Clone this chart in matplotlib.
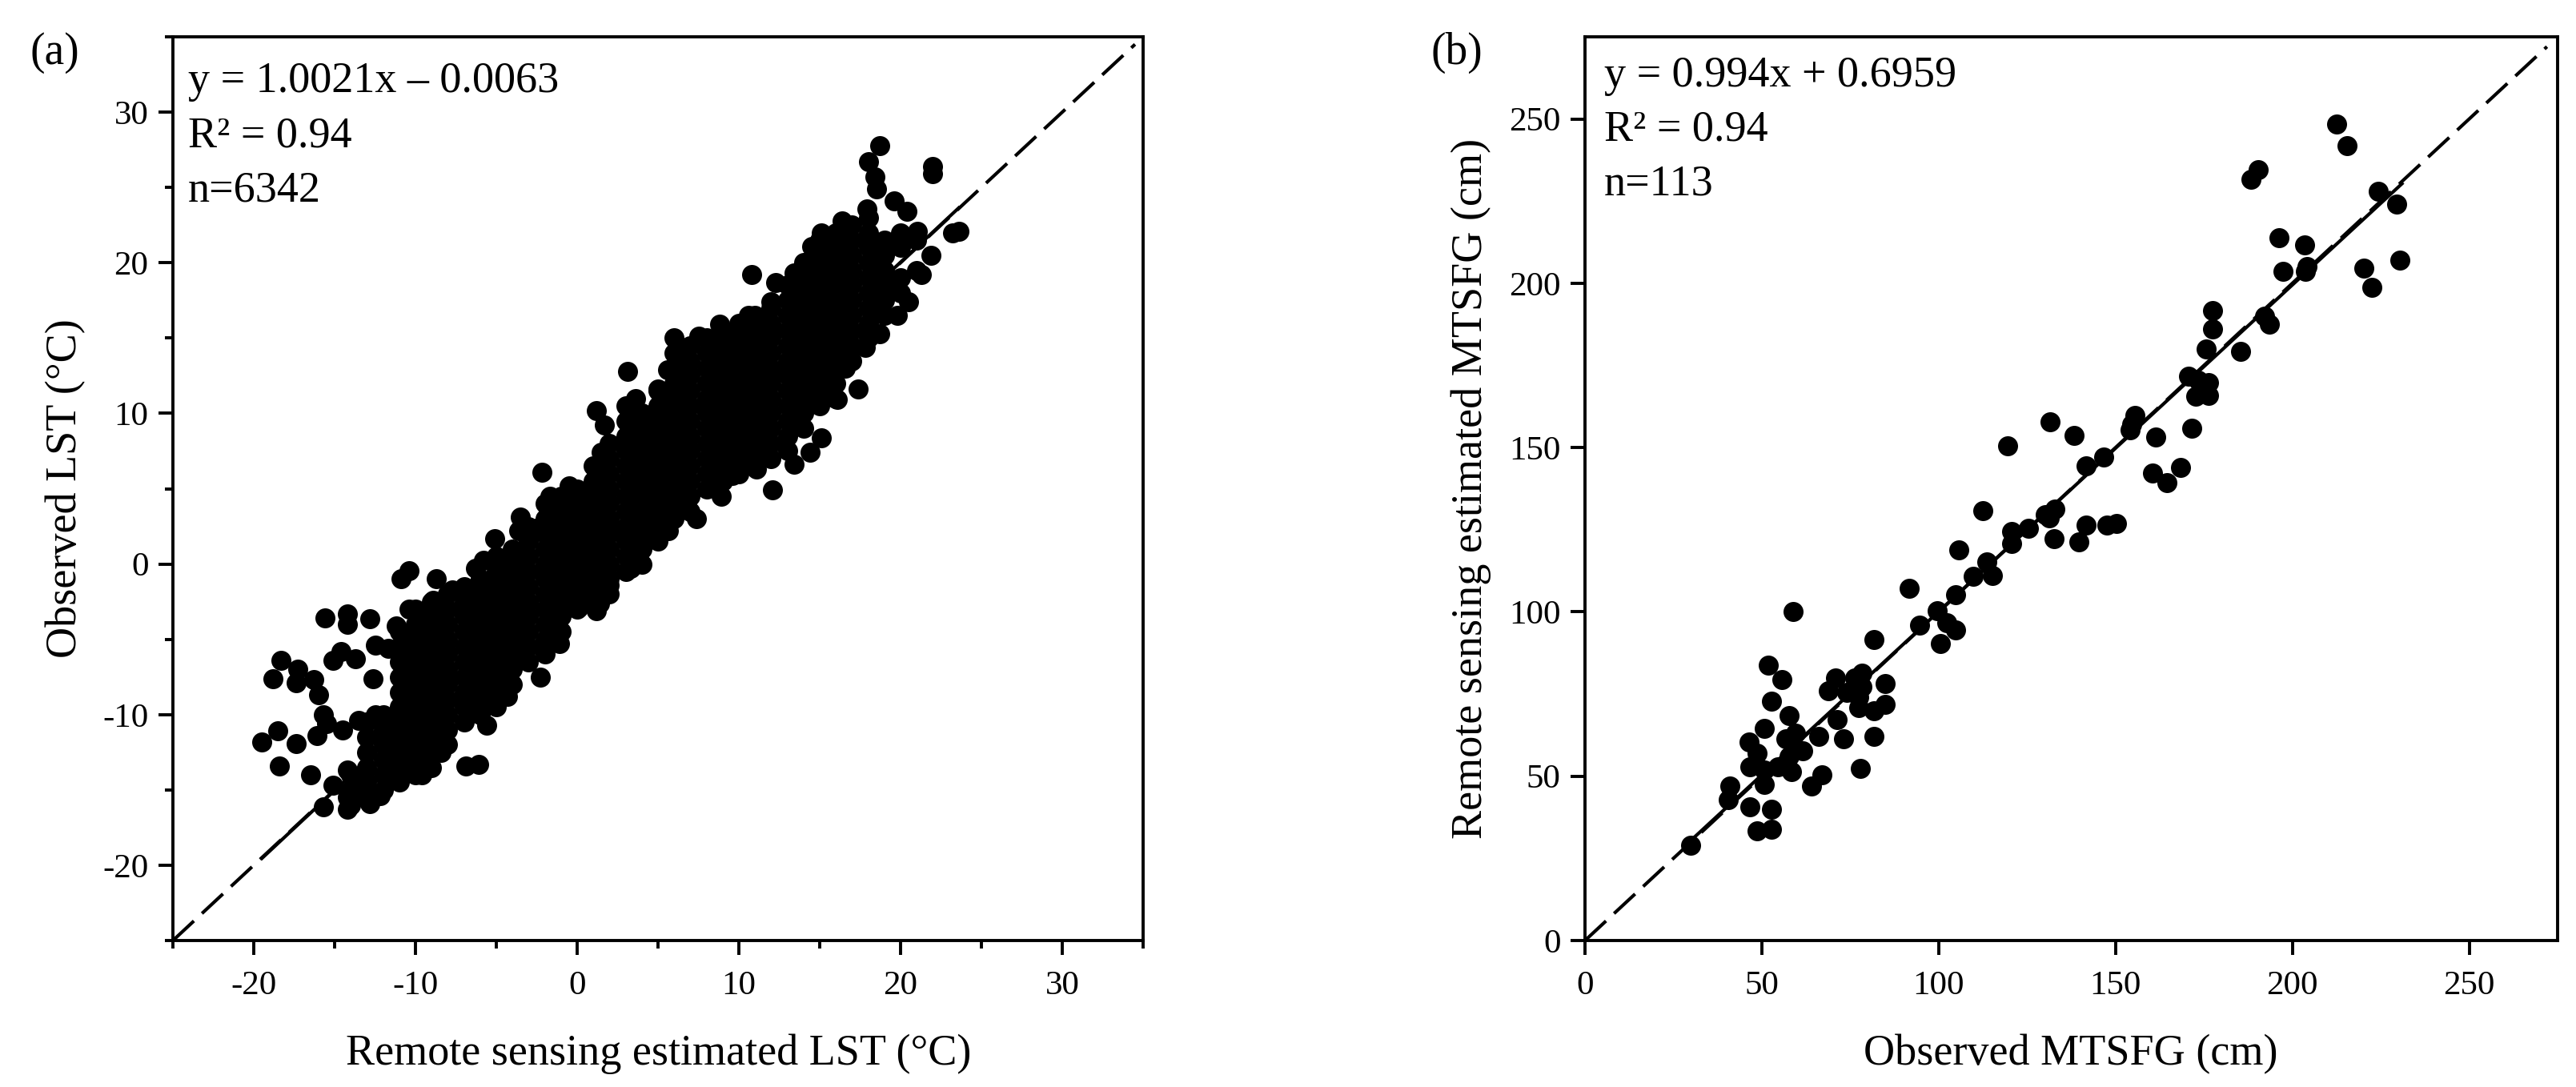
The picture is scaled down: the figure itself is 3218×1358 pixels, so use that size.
import matplotlib
matplotlib.use("Agg")
import matplotlib.pyplot as plt

plt.rcParams["font.family"] = ["Liberation Serif", "DejaVu Serif"]
plt.rcParams["axes.unicode_minus"] = False

# panel (a) - dense part of the cloud, read column by column
band_est = [-14, -13, -12, -11, -10, -9, -8, -7, -6, -5, -4, -3, -2, -1, 0, 1, 2, 3,
            4, 5, 6, 7, 8, 9, 10, 11, 12, 13, 14, 15, 16, 17, 18, 19, 20, 21]
band_obs = [
    [-16, -15, -14],
    [-15.5, -14.5, -13.5, -12.5, -11.5, -10.5],
    [-15, -14, -13, -12, -11, -10],
    [-14.5, -13.5, -12.5, -11.5, -10.5, -9.5, -8.5, -7.5, -6.5, -5.5, -4.5],
    [-14, -13, -12, -11, -10, -9, -8, -7, -6, -5, -4, -3],
    [-13.5, -12.5, -11.5, -10.5, -9.5, -8.5, -7.5, -6.5, -5.5, -4.5, -3.5, -2.5],
    [-12, -11, -10, -9, -8, -7, -6, -5, -4, -3, -2],
    [-10.5, -9.5, -8.5, -7.5, -6.5, -5.5, -4.5, -3.5, -2.5, -1.5],
    [-10, -9, -8, -7, -6, -5, -4, -3, -2, -1],
    [-9.5, -8.5, -7.5, -6.5, -5.5, -4.5, -3.5, -2.5, -1.5, -0.5, 0.5],
    [-8, -7, -6, -5, -4, -3, -2, -1, 0, 1],
    [-6.5, -5.5, -4.5, -3.5, -2.5, -1.5, -0.5, 0.5, 1.5, 2.5],
    [-6, -5, -4, -3, -2, -1, 0, 1, 2, 3, 4],
    [-4.5, -3.5, -2.5, -1.5, -0.5, 0.5, 1.5, 2.5, 3.5, 4.5],
    [-3, -2, -1, 0, 1, 2, 3, 4, 5],
    [-2.5, -1.5, -0.5, 0.5, 1.5, 2.5, 3.5, 4.5, 5.5, 6.5],
    [-2, -1, 0, 1, 2, 3, 4, 5, 6, 7, 8],
    [-0.5, 0.5, 1.5, 2.5, 3.5, 4.5, 5.5, 6.5, 7.5, 8.5, 9.5, 10.5],
    [0, 1, 2, 3, 4, 5, 6, 7, 8, 9, 10],
    [1.5, 2.5, 3.5, 4.5, 5.5, 6.5, 7.5, 8.5, 9.5, 10.5, 11.5],
    [3, 4, 5, 6, 7, 8, 9, 10, 11, 12, 13, 14],
    [3.5, 4.5, 5.5, 6.5, 7.5, 8.5, 9.5, 10.5, 11.5, 12.5, 13.5, 14.5],
    [5, 6, 7, 8, 9, 10, 11, 12, 13, 14, 15],
    [5.5, 6.5, 7.5, 8.5, 9.5, 10.5, 11.5, 12.5, 13.5, 14.5, 15.5],
    [6, 7, 8, 9, 10, 11, 12, 13, 14, 15, 16],
    [6.5, 7.5, 8.5, 9.5, 10.5, 11.5, 12.5, 13.5, 14.5, 15.5, 16.5],
    [7, 8, 9, 10, 11, 12, 13, 14, 15, 16, 17],
    [7.5, 8.5, 9.5, 10.5, 11.5, 12.5, 13.5, 14.5, 15.5, 16.5, 17.5, 18.5],
    [9, 10, 11, 12, 13, 14, 15, 16, 17, 18, 19, 20],
    [10.5, 11.5, 12.5, 13.5, 14.5, 15.5, 16.5, 17.5, 18.5, 19.5, 20.5, 21.5],
    [11, 12, 13, 14, 15, 16, 17, 18, 19, 20, 21, 22],
    [13.5, 14.5, 15.5, 16.5, 17.5, 18.5, 19.5, 20.5, 21.5, 22.5],
    [15, 16, 17, 18, 19, 20, 21, 22, 23],
    [16.5, 17.5, 18.5, 19.5, 20.5, 21.5],
    [18, 19, 21, 22],
    [19.5, 21.5],
]

# panel (a) - points on the edge of the cloud and the stray ones
edge_est = [18.7, 18.0, 22.0, 22.0, 18.4, 18.5, 19.6, 20.4, 21.05, 23.2, 23.6, 21.9, 21.3,
            10.8, 12.3, 15.1, 16.4, 17.9, 14.5, 13.4, 12.0, 10.6, 8.8, 7.5, 6.0, 5.6, 5.0,
            3.1, 3.6, 1.2, 1.7, 1.5, -0.5, -2.2, -1.7, -3.5, -5.1, -2.4, -3.6,
            20.5, 19.8, 18.7, 17.8, 16.6, 17.4, 16.1, 15.1, 14.4, 13.4, 12.1, 11.1, 9.6,
            8.9, 7.4, 5.65, 3.9, 3.3, 2.0, 1.4, 0.1, -1.4,
            -10.4, -10.9, -8.7, -6.3, -5.8, -15.6, -14.2, -14.2, -12.8, -11.2, -10.4, -7.7,
            -8.9, -12.5, -11.7, -14.6, -15.1, -13.7, -12.6, -18.3, -18.8, -17.3, -17.4,
            -16.3, -16.0, -15.7, -15.5, -16.1, -18.5, -19.5, -17.4, -18.4, -16.5, -14.5,
            -13.5, -12.5, -15.7, -14.2, -14.2, -15.1, -14.2, -12.8, -12.2, -9.6, -6.9,
            -6.1, -8.4, -5.6, -4.3, -2.3, -1.1, 1.2]
edge_obs = [27.75, 26.7, 26.4, 25.9, 25.7, 24.9, 24.1, 23.4, 22.1, 22.0, 22.1, 20.5, 19.2,
            19.2, 18.7, 22.0, 22.8, 23.6, 21.1, 19.3, 17.4, 16.5, 15.9, 15.1, 15.0, 12.9, 11.6,
            12.8, 11.0, 10.2, 9.2, 7.4, 5.2, 6.1, 4.5, 3.1, 1.7, 2.4, 2.2,
            17.4, 16.5, 15.3, 14.4, 13.0, 11.6, 10.9, 8.4, 7.4, 6.6, 4.9, 6.3, 5.9,
            4.5, 3.0, 2.2, 0.9, -0.3, -1.4, -2.6, -2.9, -4.7,
            -0.43, -1.0, -1.0, -0.3, 0.26, -3.6, -3.3, -4.0, -3.65, -4.1, -3.0, -1.7,
            -2.4, -5.4, -5.6, -5.8, -6.4, -6.3, -7.6, -6.4, -7.6, -7.0, -7.9,
            -7.7, -8.7, -10.0, -10.6, -11.4, -11.1, -11.8, -11.9, -13.4, -14.0, -11.0,
            -10.4, -10.0, -16.1, -16.3, -15.5, -14.7, -13.7, -15.9, -15.4, -14.0, -13.4,
            -13.3, -12.5, -10.7, -8.8, -7.5, -5.3, -3.1]

# panel (b)
mtsfg_obs = [212.5, 215.5, 190.3, 188.3, 224.4, 229.4, 196.3, 203.4, 203.6, 204.1, 197.4,
             220.3, 230.5, 222.4, 192.2, 193.6, 177.5, 177.5, 175.6, 185.3, 170.6, 173.4,
             176.4, 172.6, 176.4, 174.5, 171.5, 155.6, 154.7, 154.2, 131.6, 138.4, 119.6,
             161.4, 146.7, 141.6, 160.4, 164.5, 168.4, 112.6, 132.9, 131.2, 130.1, 125.4,
             120.7, 141.6, 147.5, 150.4, 132.6, 139.6, 120.7, 105.8, 113.6, 115.2, 109.8,
             104.7, 91.7, 99.5, 94.6, 102.2, 104.9, 100.6, 58.9, 81.7, 51.9, 55.7, 52.8,
             70.8, 68.7, 78.4, 76.2, 78.4, 74.1, 77.3, 84.9, 84.9, 81.7, 77.3, 71.4, 73.0,
             81.7, 66.0, 57.8, 50.8, 46.5, 48.6, 46.7, 56.8, 59.5, 61.6, 58.9, 57.8, 58.4,
             54.6, 50.8, 50.8, 77.9, 67.0, 64.0, 40.9, 40.5, 46.7, 52.8, 48.6, 52.8, 29.9]
mtsfg_est = [248.5, 241.9, 234.6, 231.6, 228.1, 224.0, 213.9, 211.6, 203.6, 205.2, 203.6,
             204.5, 207.1, 198.8, 190.1, 187.6, 191.7, 186.2, 179.9, 179.3, 171.7, 170.4,
             169.8, 165.6, 165.8, 167.7, 155.9, 159.8, 157.2, 155.3, 157.9, 153.7, 150.5,
             153.2, 147.0, 144.5, 142.2, 139.4, 144.0, 130.8, 131.3, 128.7, 129.7, 125.5,
             124.4, 126.5, 126.3, 126.8, 122.3, 121.3, 120.7, 118.9, 115.2, 111.0, 110.8,
             105.2, 107.1, 100.4, 96.0, 96.7, 94.6, 90.4, 100.2, 91.5, 83.8, 79.3, 72.8,
             79.8, 76.1, 81.4, 79.8, 77.2, 75.6, 74.0, 78.3, 71.9, 69.8, 70.9, 67.2, 61.4,
             62.2, 62.1, 68.5, 64.5, 60.5, 57.1, 52.9, 61.4, 63.0, 57.7, 59.3, 56.1, 51.3,
             52.9, 51.9, 47.6, 52.4, 50.3, 46.9, 46.9, 42.9, 40.6, 40.0, 33.4, 33.9, 29.0]

a_ticks = [-20, -10, 0, 10, 20, 30]
a_minor = [-25, -15, -5, 5, 15, 25, 35]
b_ticks = [0, 50, 100, 150, 200, 250]

W, H = 3218, 1358
fig = plt.figure(figsize=(W / 100, H / 100), dpi=100, facecolor="white")


def px_axes(x0, x1, y0, y1):
    return fig.add_axes([x0 / W, 1 - y1 / H, (x1 - x0) / W, (y1 - y0) / H])


def put(x, y, s, **kw):
    fig.text(x / W, 1 - y / H, s, **kw)


def style(ax):
    for sp in ax.spines.values():
        sp.set_linewidth(2.8)
    ax.tick_params(which="major", length=13, width=2.8, labelsize=31)
    ax.tick_params(which="minor", length=7, width=2.8)
    ax.tick_params(axis="x", which="major", pad=14)
    ax.tick_params(axis="y", which="major", pad=9)


# (a)
ax1 = px_axes(216, 1428, 46, 1175)
ax1.plot([-25, 34.5], [-25, 34.5], color="black", lw=3, linestyle=(0, (8.6, 3.3)), zorder=1)
ax1.plot([-19.5, 23.6], [1.0021 * -19.5 - 0.0063, 1.0021 * 23.6 - 0.0063], color="black", lw=3, zorder=1)
for x, ys in zip(band_est, band_obs):
    ax1.plot([x] * len(ys), ys, "o", color="black", ms=18, mew=0, zorder=2)
ax1.plot(edge_est, edge_obs, "o", color="black", ms=18, mew=0, zorder=2)
ax1.set_xlim(-25, 35)
ax1.set_ylim(-25, 35)
ax1.set_xticks(a_ticks)
ax1.set_yticks(a_ticks)
ax1.set_xticks(a_minor, minor=True)
ax1.set_yticks(a_minor, minor=True)
style(ax1)

# (b)
ax2 = px_axes(1980, 3195, 46, 1175)
ax2.plot([0, 272], [0, 272], color="black", lw=3, linestyle=(0, (8.6, 3.3)), zorder=1)
ax2.plot([29.9, 231], [0.994 * 29.9 + 0.6959, 0.994 * 231 + 0.6959], color="black", lw=3, zorder=1)
ax2.plot(mtsfg_obs, mtsfg_est, "o", color="black", ms=18, mew=0, zorder=2)
ax2.set_xlim(0, 275)
ax2.set_ylim(0, 275)
ax2.set_xticks(b_ticks)
ax2.set_yticks(b_ticks)
style(ax2)

# text, placed by pixel
put(37, 80, "(a)", fontsize=40)
put(235, 115, "y = 1.0021x – 0.0063", fontsize=39)
put(235, 184, "R² = 0.94", fontsize=39)
put(235, 251, "n=6342", fontsize=39)
put(823, 1330, "Remote sensing estimated LST (°C)", fontsize=39, ha="center")
put(82, 610, "Observed LST (°C)", fontsize=39, rotation=90, ha="center", va="center")

put(1787, 80, "(b)", fontsize=40)
put(2004, 108, "y = 0.994x + 0.6959", fontsize=39)
put(2004, 176, "R² = 0.94", fontsize=39)
put(2004, 244, "n=113", fontsize=39)
put(2587, 1330, "Observed MTSFG (cm)", fontsize=39, ha="center")
put(1838, 610, "Remote sensing estimated MTSFG (cm)", fontsize=39, rotation=90, ha="center", va="center")

fig.savefig("out.png", dpi=100)
